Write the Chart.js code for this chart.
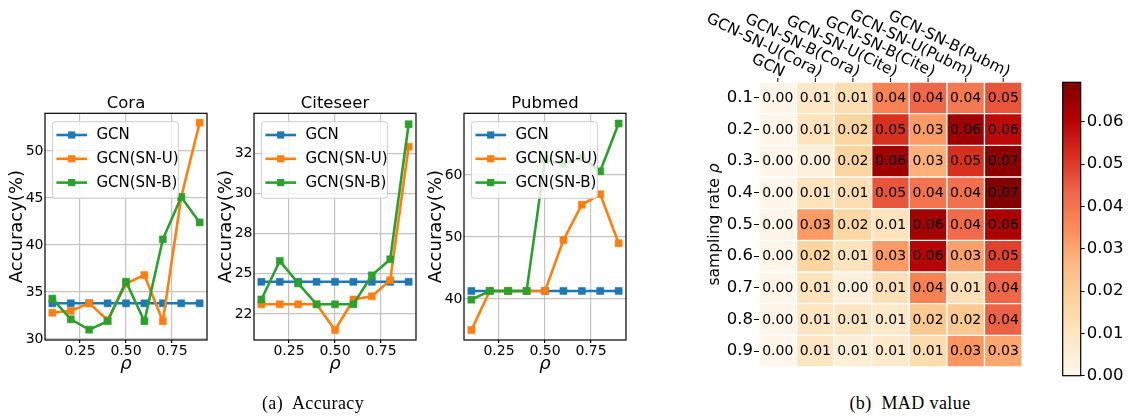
<!DOCTYPE html>
<html><head><meta charset="utf-8">
<script src="https://cdn.jsdelivr.net/npm/chart.js@4.4.0/dist/chart.umd.min.js"></script>
<style>
html,body{margin:0;padding:0;background:#fff;width:1132px;height:417px;overflow:hidden;position:relative;}
canvas{position:absolute;}
.cap{position:absolute;top:393px;font-family:"Liberation Serif",serif;font-size:18px;letter-spacing:0.4px;line-height:20px;color:#000;white-space:pre;transform:translateX(-50%);}
</style></head><body>
<canvas id="cora" width="216" height="290" style="left:0px;top:90px"></canvas>
<canvas id="cite" width="216" height="290" style="left:209px;top:90px"></canvas>
<canvas id="pub" width="216" height="290" style="left:419px;top:90px"></canvas>
<canvas id="heat" width="345" height="380" style="left:690px;top:0px"></canvas>
<canvas id="cbar" width="92" height="330" style="left:1040px;top:60px"></canvas>
<div class="cap" style="left:313px">(a)  Accuracy</div>
<div class="cap" style="left:910px">(b)  MAD value</div>
<script>
// ---------- data ----------
const rho = [0.1, 0.2, 0.3, 0.4, 0.5, 0.6, 0.7, 0.8, 0.9];
const seriesNames = ['GCN', 'GCN(SN-U)', 'GCN(SN-B)'];

const coraGCN = [33.8, 33.8, 33.8, 33.8, 33.8, 33.8, 33.8, 33.8, 33.8];
const coraSNU = [32.8, 33.0, 33.8, 32.0, 35.9, 36.8, 31.9, 45.1, 53.0];
const coraSNB = [34.3, 32.1, 31.0, 31.9, 36.1, 31.9, 40.6, 45.1, 42.4];

const citeGCN = [24.5, 24.5, 24.5, 24.5, 24.5, 24.5, 24.5, 24.5, 24.5];
const citeSNU = [23.1, 23.1, 23.1, 23.1, 21.5, 23.4, 23.6, 24.6, 32.9];
const citeSNB = [23.4, 25.8, 24.4, 23.1, 23.1, 23.1, 24.9, 25.9, 34.3];

const pubGCN = [41.3, 41.3, 41.3, 41.3, 41.3, 41.3, 41.3, 41.3, 41.3];
const pubSNU = [35.0, 41.3, 41.3, 41.3, 41.3, 49.5, 55.2, 56.9, 49.0];
const pubSNB = [39.9, 41.3, 41.3, 41.3, 62.5, 61.8, 62.8, 60.6, 68.3];

const xTicks = [0.25, 0.5, 0.75];
const xTickLabels = ['0.25', '0.50', '0.75'];
const coraTicks = [30, 35, 40, 45, 50];
const coraTickLabels = ['30', '35', '40', '45', '50'];
const citeTicks = [22.5, 25, 27.5, 30, 32.5];
const citeTickLabels = ['22', '25', '28', '30', '32'];
const pubTicks = [40, 50, 60];
const pubTickLabels = ['40', '50', '60'];

// MAD heatmap, one array per column (rows: sampling rate 0.1 .. 0.9)
const heatRows = ['0.1', '0.2', '0.3', '0.4', '0.5', '0.6', '0.7', '0.8', '0.9'];
const heatCols = ['GCN', 'GCN-SN-U(Cora)', 'GCN-SN-B(Cora)', 'GCN-SN-U(Cite)', 'GCN-SN-B(Cite)', 'GCN-SN-U(Pubm)', 'GCN-SN-B(Pubm)'];
const madGCN     = [0.001, 0.001, 0.001, 0.001, 0.001, 0.001, 0.001, 0.001, 0.001];
const madSNUCora = [0.009, 0.011, 0.004, 0.011, 0.032, 0.017, 0.011, 0.010, 0.010];
const madSNBCora = [0.013, 0.017, 0.017, 0.013, 0.016, 0.011, 0.004, 0.010, 0.005];
const madSNUCite = [0.037, 0.052, 0.064, 0.046, 0.011, 0.032, 0.012, 0.008, 0.008];
const madSNBCite = [0.043, 0.032, 0.028, 0.040, 0.063, 0.060, 0.037, 0.021, 0.014];
const madSNUPubm = [0.039, 0.064, 0.052, 0.041, 0.042, 0.031, 0.012, 0.021, 0.033];
const madSNBPubm = [0.046, 0.059, 0.067, 0.069, 0.062, 0.049, 0.043, 0.044, 0.030];
const cbMax = 0.0693;
const cbTicks = [0, 0.01, 0.02, 0.03, 0.04, 0.05, 0.06];
const cbTickLabels = ['0.00', '0.01', '0.02', '0.03', '0.04', '0.05', '0.06'];

// ---------- helpers ----------
const FONT = '"DejaVu Sans", sans-serif';
const colors = ['#1f77b4', '#ff7f0e', '#2ca02c'];
const orrd = ['#fff7ec', '#fee8c8', '#fdd49e', '#fdbb84', '#fc8d59', '#ef6548', '#d7301f', '#b30000', '#7f0000'];
function hex2rgb(h) { return [parseInt(h.substr(1, 2), 16), parseInt(h.substr(3, 2), 16), parseInt(h.substr(5, 2), 16)]; }
function cmap(t) {
  t = Math.max(0, Math.min(1, t));
  const s = t * 8, i = Math.min(7, Math.floor(s)), f = s - i;
  const a = hex2rgb(orrd[i]), b = hex2rgb(orrd[i + 1]);
  return 'rgb(' + a.map((v, k) => Math.round(v + (b[k] - v) * f)).join(',') + ')';
}

const framePlugin = {
  id: 'frame',
  afterDraw(chart) {
    const a = chart.chartArea, ctx = chart.ctx;
    ctx.save();
    ctx.strokeStyle = '#000'; ctx.lineWidth = 1.2;
    ctx.strokeRect(a.left, a.top, a.right - a.left, a.bottom - a.top);
    ctx.restore();
  }
};

const legendPlugin = {
  id: 'inlegend',
  afterDatasetsDraw(chart) {
    const ctx = chart.ctx, a = chart.chartArea;
    const x = a.left + 7.4, y = a.top + 8.4, w = 126, h = 76.6;
    ctx.save();
    ctx.beginPath();
    ctx.roundRect(x, y, w, h, 3);
    ctx.fillStyle = 'rgba(255,255,255,0.8)'; ctx.fill();
    ctx.strokeStyle = '#cccccc'; ctx.lineWidth = 1; ctx.stroke();
    chart.data.datasets.forEach((ds, i) => {
      const cy = y + 13.3 + i * 23.8;
      ctx.strokeStyle = ds.borderColor; ctx.lineWidth = 2.6;
      ctx.beginPath(); ctx.moveTo(x + 4, cy); ctx.lineTo(x + 34.6, cy); ctx.stroke();
      ctx.fillStyle = ds.borderColor; ctx.fillRect(x + 19.3 - 3.6, cy - 3.6, 7.2, 7.2);
      ctx.fillStyle = '#000'; ctx.font = '15px ' + FONT; ctx.textBaseline = 'middle'; ctx.textAlign = 'left';
      ctx.fillText(ds.label, x + 44, cy + 0.5);
    });
    ctx.restore();
  }
};

const titlePlugin = {
  id: 'ctitle',
  afterDraw(chart) {
    const ctx = chart.ctx, a = chart.chartArea;
    ctx.save();
    ctx.fillStyle = '#000'; ctx.font = '16.5px ' + FONT;
    ctx.textAlign = 'center'; ctx.textBaseline = 'middle';
    ctx.fillText(chart.options.plugins.ctitle.text, (a.left + a.right) / 2, a.top - 9.5);
    ctx.restore();
  }
};

function series(i, vals, order) {
  return {
    label: seriesNames[i],
    data: rho.map((r, k) => ({ x: r, y: vals[k] })),
    borderColor: colors[i], backgroundColor: colors[i],
    borderWidth: 2.6, pointStyle: 'rect', pointRadius: 5,
    pointBackgroundColor: colors[i], pointBorderColor: colors[i], pointBorderWidth: 0.5,
    tension: 0, order: order, clip: false
  };
}

function lineChart(id, title, gcn, snu, snb, yMin, yMax, yTicks, yTickLabels) {
  return new Chart(document.getElementById(id), {
    type: 'line',
    data: { datasets: [series(0, gcn, 2), series(1, snu, 1), series(2, snb, 0)] },
    options: {
      responsive: false, animation: false, events: [],
      layout: { padding: { left: 0, right: 9, top: 23.3, bottom: 0 } },
      plugins: {
        legend: { display: false }, tooltip: { enabled: false }, title: { display: false },
        ctitle: { text: title }
      },
      scales: {
        x: {
          type: 'linear', min: 0.06, max: 0.94,
          afterBuildTicks: s => { s.ticks = xTicks.map(v => ({ value: v })); },
          afterFit: s => { s.height = 40; },
          ticks: { callback: (v, i) => xTickLabels[i], color: '#000', font: { family: FONT, size: 14 }, padding: 0, maxRotation: 0 },
          grid: { color: '#c4c4c4', lineWidth: 1.2, tickColor: '#000', tickLength: 3 },
          border: { display: false },
          title: { display: true, text: 'ρ', color: '#000', font: { family: FONT, size: 18, style: 'italic' }, padding: { top: 0, bottom: 5 } }
        },
        y: {
          type: 'linear', min: yMin, max: yMax,
          afterBuildTicks: s => { s.ticks = yTicks.map(v => ({ value: v })); },
          afterFit: s => { s.width = 45; },
          ticks: { callback: (v, i) => yTickLabels[i], color: '#000', font: { family: FONT, size: 14 }, padding: 1.5 },
          grid: { color: '#c4c4c4', lineWidth: 1.2, drawTicks: false },
          border: { display: false },
          title: { display: true, text: 'Accuracy(%)', color: '#000', font: { family: FONT, size: 18 }, padding: { top: 7, bottom: 0 } }
        }
      }
    },
    plugins: [legendPlugin, framePlugin, titlePlugin]
  });
}

lineChart('cora', 'Cora', coraGCN, coraSNU, coraSNB, 29.9, 54.0, coraTicks, coraTickLabels);
lineChart('cite', 'Citeseer', citeGCN, citeSNU, citeSNB, 20.88, 34.98, citeTicks, citeTickLabels);
lineChart('pub', 'Pubmed', pubGCN, pubSNU, pubSNB, 33.39, 69.95, pubTicks, pubTickLabels);

// ---------- heatmap ----------
const madCols = [madGCN, madSNUCora, madSNBCora, madSNUCite, madSNBCite, madSNUPubm, madSNBPubm];

const heatPlugin = {
  id: 'heatText',
  afterDatasetsDraw(chart) {
    const ctx = chart.ctx, a = chart.chartArea, xs = chart.scales.x;
    ctx.save();
    ctx.fillStyle = '#000';
    ctx.font = '14px ' + FONT; ctx.textAlign = 'center'; ctx.textBaseline = 'middle';
    chart.data.datasets.forEach((ds, j) => {
      chart.getDatasetMeta(j).data.forEach((el, i) => {
        const p = el.getCenterPoint();
        ctx.fillText(madCols[j][i].toFixed(2), p.x, p.y + 0.5);
      });
    });
    // top ticks & rotated column labels
    ctx.strokeStyle = '#000'; ctx.lineWidth = 1;
    ctx.font = '15.5px ' + FONT; ctx.textAlign = 'right'; ctx.textBaseline = 'alphabetic';
    heatCols.forEach((lab, j) => {
      const px = xs.getPixelForValue(j + 0.5);
      ctx.beginPath(); ctx.moveTo(px, a.top - 4); ctx.lineTo(px, a.top); ctx.stroke();
      ctx.save();
      ctx.translate(px + 4, a.top - 5);
      ctx.rotate(26 * Math.PI / 180);
      ctx.fillText(lab, 0, 0);
      ctx.restore();
    });
    // y-axis title with italic rho
    ctx.save();
    ctx.translate(25, (a.top + a.bottom) / 2);
    ctx.rotate(-Math.PI / 2);
    ctx.textBaseline = 'middle'; ctx.textAlign = 'left';
    const f1 = '15.5px ' + FONT, f2 = 'italic 15.5px ' + FONT;
    ctx.font = f1; const w1 = ctx.measureText('sampling rate ').width;
    ctx.font = f2; const w2 = ctx.measureText('ρ').width;
    const start = -(w1 + w2) / 2;
    ctx.font = f1; ctx.fillText('sampling rate ', start, 0);
    ctx.font = f2; ctx.fillText('ρ', start + w1, 0);
    ctx.restore();
    ctx.restore();
  }
};

new Chart(document.getElementById('heat'), {
  type: 'bar',
  data: {
    labels: heatRows,
    datasets: madCols.map((vals, j) => ({
      label: heatCols[j],
      data: vals.map(() => 1),
      backgroundColor: vals.map(v => cmap(v / cbMax)),
      borderColor: '#ffffff', borderWidth: 1, borderSkipped: false,
      barPercentage: 1, categoryPercentage: 1
    }))
  },
  options: {
    indexAxis: 'y', responsive: false, animation: false, events: [],
    layout: { padding: { left: 0, right: 13, top: 82, bottom: 13 } },
    plugins: { legend: { display: false }, tooltip: { enabled: false } },
    scales: {
      x: { type: 'linear', stacked: true, min: 0, max: 7, display: false },
      y: {
        type: 'category', stacked: true, offset: true,
        afterFit: s => { s.width = 69; },
        ticks: { color: '#000', font: { family: FONT, size: 16.5 }, padding: 1 },
        grid: { display: true, offset: false, drawOnChartArea: false, color: 'rgba(0,0,0,0)', tickColor: '#000', tickLength: 5 },
        border: { display: false }
      }
    }
  },
  plugins: [heatPlugin]
});

// ---------- colorbar ----------
new Chart(document.getElementById('cbar'), {
  type: 'bar',
  data: {
    labels: ['MAD'],
    datasets: [{
      data: [[0, cbMax]],
      backgroundColor: c => {
        const a = c.chart.chartArea;
        if (!a) return '#fff';
        const g = c.chart.ctx.createLinearGradient(0, a.bottom, 0, a.top);
        for (let k = 0; k <= 32; k++) g.addColorStop(k / 32, cmap(k / 32));
        return g;
      },
      borderWidth: 0, barPercentage: 1, categoryPercentage: 1
    }]
  },
  options: {
    responsive: false, animation: false, events: [],
    layout: { padding: { left: 22.7, right: 0, top: 22.3, bottom: 14.3 } },
    plugins: { legend: { display: false }, tooltip: { enabled: false } },
    scales: {
      x: { display: false, offset: true },
      y: {
        position: 'right', min: 0, max: cbMax,
        afterBuildTicks: s => { s.ticks = cbTicks.map(v => ({ value: v })); },
        afterFit: s => { s.width = 51.3; },
        ticks: { callback: (v, i) => cbTickLabels[i], color: '#000', font: { family: FONT, size: 16.5 }, padding: 2 },
        grid: { display: true, drawOnChartArea: false, color: 'rgba(0,0,0,0)', tickColor: '#000', tickLength: 4 },
        border: { display: false }
      }
    }
  },
  plugins: [framePlugin]
});
</script>
</body></html>
